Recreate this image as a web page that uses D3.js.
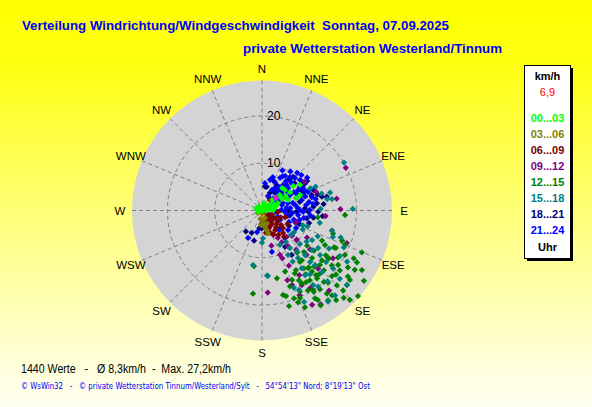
<!DOCTYPE html>
<html><head><meta charset="utf-8">
<script src="https://cdn.jsdelivr.net/npm/d3@7"></script>
<style>html,body{margin:0;padding:0;overflow:hidden;}svg{display:block;}</style>
</head><body>
<svg id="c" width="592" height="407"></svg>
<script>
// ---------- DATA (direction in degrees from N, speed in km/h) ----------
const directions = ["N","NNE","NE","ENE","E","ESE","SE","SSE","S","SSW","SW","WSW","W","WNW","NW","NNW"];
const ringValues = [10, 20];
const hourBands = ["00...03","03...06","06...09","09...12","12...15","15...18","18...21","21...24"];
const bandColors = ["#00ff00","#808000","#800000","#800080","#008000","#008080","#000080","#0000ff"];
const meanSpeed = "6,9";
const titleText = "Verteilung Windrichtung/Windgeschwindigkeit  Sonntag, 07.09.2025";
const subtitleText = "private Wetterstation Westerland/Tinnum";
const statsText = "1440 Werte   -   Ø 8,3km/h  -  Max. 27,2km/h";
const creditText = "© WsWin32   -   © private Wetterstation Tinnum/Westerland/Sylt   -   54°54'13\" Nord; 8°19'13\" Ost";
const maxSpeed = 27.5;

const h00_03 = [[307,0.5],[16,0.8],[42,1.3],[61,1.9],[65,2.8],[84,1.1],[80,1.9],[90,0.1],[65,3.7],[60,4.9],[59,5.9],[57,7.1],[52,8.4],[48,6.5],[49,5.0],[48,4.0],[70,7.7],[68,8.7],[68,5.9],[42,6.4],[326,1.1],[15,1.6],[56,9.7],[44,3.1],[75,1.4],[88,2.4],[70,3.3],[280,0.6],[270,0.9],[250,0.7],[60,1.5],[78,2.6],[66,2.2],[95,0.8],[290,1.3],[52,2.0]];
const h03_06 = [[180,0.7],[158,1.7],[184,3.1],[166,4.3],[172,2.9],[240,1.0],[165,5.0],[170,3.6],[175,2.2],[160,3.0],[190,1.8]];
const h06_09 = [[117,0.7],[127,1.6],[157,2.2],[142,3.1],[120,3.2],[158,4.0],[140,4.6],[127,5.1],[155,5.5],[137,6.5],[37,2.8],[181,2.7],[146,5.0],[146,6.2],[95,3.4],[106,5.1],[150,3.5],[132,4.2],[112,2.3],[135,2.5],[150,2.1],[165,3.4],[125,4.0],[110,4.2],[145,3.6],[160,5.0],[130,5.8],[118,6.1],[170,4.8],[140,7.2]];
const h09_12 = [[63,19.9],[81,16.0],[89,16.6],[95,13.5],[71,12.1],[176,17.4],[152,22.6],[148,23.4],[156,19.6],[158,17.0],[160,15.7],[157,11.0],[154,13.0],[136,17.1],[106,15.4],[111,19.2],[121,11.1],[130,9.6],[137,7.6],[155,5.7],[165,7.7],[158,10.1],[150,15.8],[148,19.3],[124,18.1],[135,13.3],[109,7.6],[56,10.8],[129,13.1],[139,11.0],[144,9.3],[140,22.1],[152,17.9],[148,7.9],[150,6.7],[130,8.3]];
const h12_15 = [[135.5,26.5],[131.7,27.2],[124.6,26.2],[120.8,24.6],[112.8,22.9],[118.7,22.9],[123.5,21.8],[131.2,23.9],[134.6,24.1],[135,22.4],[130.9,20.7],[142,22.3],[148.3,23.6],[143.7,23.6],[156.1,22.4],[160,19.8],[164.2,21.0],[166,18.4],[167.6,14.7],[186.2,17.7],[188.2,11.9],[93.1,17.6],[143.7,20.7],[147.2,19.9],[150.1,19.5],[154.9,18.9],[151.3,17.6],[145.6,17.9],[152.4,15.0],[159.3,13.8],[141,18.5],[134,18.2],[128.2,18.8],[121.7,18.9],[110.6,18.1],[117.2,17.1],[125.1,16.5],[137.1,16.2],[140.5,15.6],[141.3,13.5],[127.6,13.9],[116.6,14.2],[127.9,12.1],[140.2,11.6],[137.5,20.7],[127.5,22.9],[117.6,21.9],[140.5,23.3],[148.9,21.7],[129.8,16.5],[108,15.8],[138.3,18.1],[145.5,16.4],[159.8,17.1],[158.6,20.9],[127.6,20.8],[125.6,17.4],[144.1,15.1],[152.1,16.7],[140.7,16.7],[97,11.9],[112.3,19.0],[143.6,13.5],[141.3,15.6],[140.1,17.8],[139.1,20.0],[133.1,20.3],[125.6,19.8],[125.7,17.2],[133.2,16.8],[133.5,14.6],[134.7,12.5],[150.3,14.5],[148.4,17.8],[147.5,20.4],[156.6,16.0],[136.9,25.3],[140.4,24.6],[128.3,23.7],[122.6,23.3],[118.2,19.9],[116.9,17.5],[118.7,15.2],[156.5,20.2],[164.3,18.8],[148,22.3]];
const h15_18 = [[59.7,20.1],[89,19.2],[75.2,14.9],[80,14.0],[80.7,15.0],[88.5,12.4],[66.1,12.4],[110,9.2],[109.3,10.2],[106,15.4],[110.5,16.0],[108.9,17.6],[114.3,19.0],[121,21.0],[131.2,23.9],[131.3,21.9],[139.3,23.7],[144,23.8],[155.3,21.3],[155,18.5],[175.6,13.8],[189.4,11.7],[180,6.8],[143.1,16.9],[143.6,20.0],[130.2,8.0],[139.5,11.4],[136,13.1],[128.3,13.5],[127.5,15.5],[135.8,16.1],[145.5,14.8],[149,12.6],[149.7,10.9],[129.2,19.4],[119.6,16.3],[124.9,11.5],[114.9,13.0],[137.2,20.4],[65.4,11.2],[74.1,13.1],[178,5.9],[174.8,13.9],[137,14.9],[135.7,18.2],[128.8,17.4],[142.8,12.6],[143.3,9.9],[131.4,10.7],[120.5,12.3],[123.8,14.3],[146.3,16.4],[145.6,19.1],[157.6,17.7],[120.3,19.1],[142.7,8.4],[123.9,8.2],[152.4,8.2],[102,12.5],[115,9.5]];
const h18_21 = [[11.2,5.1],[24.2,4.1],[217.6,5.6],[194.8,6.6],[181,3.8],[72.7,11.0],[99.9,9.6],[91.5,9.8],[85.8,10.9],[40.9,8.8],[42.8,9.7],[54.2,10.4],[56.9,11.4],[68.2,11.7],[87,9.1],[77,8.2],[46.3,5.8],[134.7,5.4],[124.6,2.9],[92,7.3],[146.3,11.3],[147.6,9.1],[7.2,5.1],[188.6,3.8],[77,13.0],[78,14.0],[82.5,11.7],[91.2,11.9],[95.2,12.9],[130.4,9.6],[30,6.2],[63,9.3],[100,6.0],[110,8.4],[35,4.6],[20,6.8],[205,5.2],[120,6.6],[50,9.0],[58,10.6],[66,9.8],[74,12.2],[84,13.1],[98,11.0],[105,10.3],[44,7.4],[90,5.6]];
const h21_24 = [[24.5,6.6],[29,7.9],[33.7,8.8],[39.9,9.2],[45.4,9.8],[51.3,10.3],[57.4,10.8],[39.5,7.0],[49.1,7.3],[50.6,8.5],[60.3,8.8],[61.2,9.9],[68.1,10.5],[74.9,10.9],[40.9,5.2],[55.4,5.4],[61,6.8],[69.8,7.7],[75.3,8.7],[82.9,9.4],[89.4,10.1],[89.2,8.0],[80.5,7.1],[73.9,5.7],[74.6,4.4],[53.1,3.7],[26,4.8],[22.5,3.3],[94.8,6.4],[93.7,4.9],[97.1,7.7],[100.1,9.0],[96,3.0],[119,1.9],[117.8,4.3],[113,6.2],[109.2,7.4],[207,6.5],[166.5,9.0],[193,4.7],[6.2,5.8],[14.7,6.7],[39.1,8.0],[79.7,10.1],[82.7,10.9],[68.3,8.9],[60,7.8],[35.9,6.1],[45.5,8.6],[63.4,2.6],[126.9,6.9],[138.9,5.5],[117.2,8.1],[140.1,7.6],[33,5.5],[47,6.3],[85,6.0],[65,10.0],[18,7.4],[104,8.2],[27,9.5],[36,10.2],[43,10.9],[31,8.4],[37,5.8],[44,7.5],[52,6.6],[58,9.4],[64,8.1],[66,11.3],[72,9.6],[78,11.6],[86,7.6],[92,8.7],[84,5.2],[70,4.6],[58,4.1],[47,4.7],[102,5.5],[106,7.0],[96,10.3],[54,11.8],[48,11.2],[29,5.3],[62,5.9],[76,6.7],[88,4.1],[112,3.6],[42,3.4],[33,3.0]];
const meanPoint = [[48,3.9]];

const series = [h00_03,h03_06,h06_09,h09_12,h12_15,h15_18,h18_21,h21_24];
const drawOrder = [6,7,3,4,5,2,1,0];

// ---------- DRAW ----------
const svg = d3.select("#c");
const W = 592, H = 407;
const defs = svg.append("defs");
const grad = defs.append("linearGradient").attr("id","bg").attr("x1",0).attr("y1",0).attr("x2",0).attr("y2",1);
grad.append("stop").attr("offset","0%").attr("stop-color","#ffff00");
grad.append("stop").attr("offset","15%").attr("stop-color","#ffff10");
grad.append("stop").attr("offset","55%").attr("stop-color","#ffff80");
grad.append("stop").attr("offset","100%").attr("stop-color","#fffff4");
svg.append("rect").attr("width",W).attr("height",H).attr("fill","url(#bg)");

const cx = 262, cy = 210.5, R = 130;
const r = d3.scaleLinear().domain([0, maxSpeed]).range([0, R]);
const ang = d3.scaleLinear().domain([0, 360]).range([0, 2*Math.PI]);
const g = svg.append("g").attr("transform", `translate(${cx},${cy})`);

g.append("circle").attr("r", R).attr("fill", "#d4d4d4");

g.selectAll("circle.ring").data(ringValues).join("circle")
  .attr("class","ring").attr("r", d => r(d))
  .attr("fill","none").attr("stroke","#808080").attr("stroke-width",1).attr("stroke-dasharray","4,3");
g.selectAll("line.spoke").data(directions).join("line")
  .attr("class","spoke")
  .attr("x1",0).attr("y1",0)
  .attr("x2",(d,i)=>d3.pointRadial(ang(i*22.5), R)[0])
  .attr("y2",(d,i)=>d3.pointRadial(ang(i*22.5), R)[1])
  .attr("stroke","#808080").attr("stroke-width",1).attr("stroke-dasharray","4,3");

g.selectAll("text.rl").data(ringValues).join("text")
  .attr("class","rl").attr("x",5).attr("y",d=>-r(d)+4)
  .attr("font-family","Liberation Sans, Arial, sans-serif").attr("font-size",12)
  .attr("fill","#000").text(d=>d);

g.selectAll("text.dl").data(directions).join("text")
  .attr("class","dl")
  .attr("x",(d,i)=>d3.pointRadial(ang(i*22.5), 142)[0])
  .attr("y",(d,i)=>d3.pointRadial(ang(i*22.5), 142)[1])
  .attr("text-anchor","middle").attr("dominant-baseline","central")
  .attr("font-family","Liberation Sans, Arial, sans-serif").attr("font-size",11.5)
  .attr("fill","#000").text(d=>d);

const diamond = d3.symbol().type(d3.symbolDiamond2).size(25);
drawOrder.forEach(si => {
  g.append("g").selectAll("path").data(series[si]).join("path")
    .attr("d", diamond)
    .attr("transform", d => { const p = d3.pointRadial(ang(d[0]), r(d[1])); return `translate(${p[0]},${p[1]})`; })
    .attr("fill", bandColors[si]);
});
g.append("g").selectAll("path").data(meanPoint).join("path")
  .attr("d", diamond)
  .attr("transform", d => { const p = d3.pointRadial(ang(d[0]), r(d[1])); return `translate(${p[0]},${p[1]})`; })
  .attr("fill", "#ff00ff");

svg.append("text").attr("x",22).attr("y",30).attr("textLength",427).attr("lengthAdjust","spacingAndGlyphs")
  .attr("font-family","Liberation Sans, Arial, sans-serif").attr("font-weight","bold").attr("font-size",13)
  .attr("fill","#0000ff").style("white-space","pre").text(titleText);
svg.append("text").attr("x",243).attr("y",53).attr("textLength",259).attr("lengthAdjust","spacingAndGlyphs")
  .attr("font-family","Liberation Sans, Arial, sans-serif").attr("font-weight","bold").attr("font-size",13)
  .attr("fill","#0000ff").text(subtitleText);

const lx = 524, ly = 65, lw = 46, lh = 193;
svg.append("rect").attr("x",lx+3).attr("y",ly+3).attr("width",lw).attr("height",lh).attr("fill","#000");
svg.append("rect").attr("x",lx+0.5).attr("y",ly+0.5).attr("width",lw).attr("height",lh).attr("fill","#fff").attr("stroke","#000").attr("stroke-width",1);
const lcx = lx + lw/2 + 0.5;
const legFont = "Liberation Sans, Arial, sans-serif";
svg.append("text").attr("x",lcx).attr("y",76).attr("text-anchor","middle").attr("dominant-baseline","central")
  .attr("font-family",legFont).attr("font-weight","bold").attr("font-size",11).attr("fill","#000").text("km/h");
svg.append("text").attr("x",lcx).attr("y",92).attr("text-anchor","middle").attr("dominant-baseline","central")
  .attr("font-family",legFont).attr("font-size",11).attr("fill","#ff0000").text(meanSpeed);
svg.selectAll("text.leg").data(hourBands).join("text").attr("class","leg")
  .attr("x",lcx).attr("y",(d,i)=>118+i*16).attr("text-anchor","middle").attr("dominant-baseline","central")
  .attr("font-family",legFont).attr("font-weight","bold").attr("font-size",11)
  .attr("fill",(d,i)=>bandColors[i]).text(d=>d);
svg.append("text").attr("x",lcx).attr("y",246.5).attr("text-anchor","middle").attr("dominant-baseline","central")
  .attr("font-family",legFont).attr("font-weight","bold").attr("font-size",11).attr("fill","#000").text("Uhr");

svg.append("text").attr("x",21).attr("y",373).attr("textLength",210).attr("lengthAdjust","spacingAndGlyphs")
  .attr("font-family",legFont).attr("font-size",12).attr("fill","#000").style("white-space","pre").text(statsText);
svg.append("text").attr("x",21).attr("y",388.5).attr("textLength",349).attr("lengthAdjust","spacingAndGlyphs")
  .attr("font-family","DejaVu Sans, Verdana, sans-serif").attr("font-size",8).attr("fill","#0000ff").style("white-space","pre").text(creditText);
</script>
</body></html>
